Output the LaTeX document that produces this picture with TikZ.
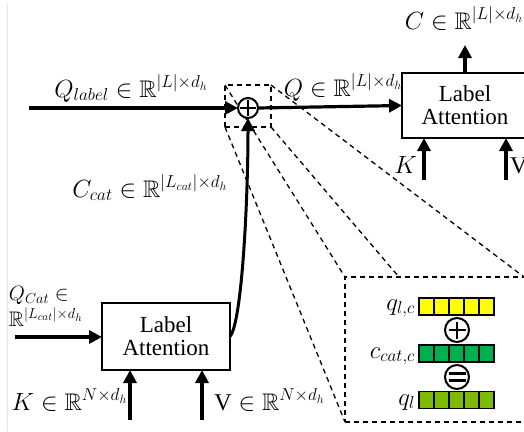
\documentclass[tikz,border=0pt]{standalone}
\usepackage{amssymb}
\usepackage{fontspec}
\setmainfont{Liberation Serif}
\usetikzlibrary{arrows.meta}
\definecolor{barYellow}{HTML}{FFFF00}
\definecolor{barGreen}{HTML}{00B050}
\definecolor{barLime}{HTML}{7DBB00}
\begin{document}
\begin{tikzpicture}[x=1pt,y=-1pt,
  every node/.style={inner sep=0pt, outer sep=0pt},
  lbl/.style={font=\fontsize{24}{28}\selectfont},
  smalllbl/.style={font=\fontsize{21}{24}\selectfont},
  attbox/.style={draw, line width=2pt, fill=white, align=center,
    font=\fontsize{23}{26}\selectfont},
  arr/.style={line width=3.2pt, -{Triangle[length=13pt,width=13pt]}},
  zoomline/.style={line width=1.3pt, dash pattern=on 5pt off 4pt},
  cell/.style={draw, line width=1.4pt, minimum width=15pt, minimum height=17pt},
  opcircle/.style={circle, draw, line width=2pt, fill=white},
]
\useasboundingbox (0,0) rectangle (524,431);
\clip (0,0) rectangle (524,431);

% faint page edge
\draw[black!10, line width=0.8pt] (7,4) -- (7,431);

% zoom frames
\node[draw, zoomline, minimum width=46pt, minimum height=42pt] (small) at (248,106) {};
\node[draw, zoomline, minimum width=185pt, minimum height=145pt] (big) at (437.5,349.5) {};
\coordinate (bigC) at (399,277);
\coordinate (bigD) at (524,277);
\draw[zoomline] (small.north west) -- (big.north west);
\draw[zoomline] (small.south west) -- (big.south west);
\draw[zoomline] (small.south east) -- (bigC);
\draw[zoomline] (small.north east) -- (bigD);

% label attention blocks
\node[attbox, minimum width=126pt, minimum height=65pt] (la1) at (465,105.5) {Label\\[-3pt]Attention};
\node[attbox, minimum width=128pt, minimum height=67pt] (la2) at (166,336.5) {Label\\[-3pt]Attention};

% addition node
\node[opcircle, minimum size=20pt] (plus) at (248,108) {};
\draw[line width=2pt] ([yshift=-8pt]plus.center) -- ([yshift=8pt]plus.center);
\draw[line width=2pt] ([xshift=-8pt]plus.center) -- ([xshift=8pt]plus.center);

% main connectors
\coordinate (qin) at (29,108);
\coordinate (cout) at (465,45);
\coordinate (kin1) at (424,180);
\coordinate (vin1) at (506,180);
\coordinate (qcin) at (15,337);
\coordinate (kin2) at (130,420);
\coordinate (vin2) at (202,420);
\draw[arr] (qin) -- (plus.west);
\draw[arr] (plus.east) -- (la1.west);
\draw[arr] (la1.north) -- (cout);
\draw[arr] (kin1) -- (kin1 |- la1.south);
\draw[arr] (vin1) -- (vin1 |- la1.south);
\draw[arr] (qcin) -- (qcin -| la2.west);
\draw[arr] (kin2) -- (kin2 |- la2.south);
\draw[arr] (vin2) -- (vin2 |- la2.south);
\draw[line width=3pt, -{Triangle[length=13pt,width=13pt]}]
  (la2.east) .. controls +(12,-14) and +(0,82) .. (plus.south);

% labels
\node[lbl, anchor=base] (tQl) at (131,97) {$Q_{label}\in\mathbb{R}^{|L|\times d_h}$};
\node[lbl, anchor=base] (tQ) at (343,96) {$Q\in\mathbb{R}^{|L|\times d_h}$};
\node[lbl, anchor=base] (tC) at (464,29) {$C\in\mathbb{R}^{|L|\times d_h}$};
\node[lbl, anchor=base east] (tK1) at (417,173) {$K$};
\node[lbl, anchor=base west] (tV1) at (510,173) {$\mathrm{V}$};
\node[lbl, anchor=base] (tCc) at (150,197) {$C_{cat}\in\mathbb{R}^{|L_{cat}|\times d_h}$};
\node[smalllbl, anchor=base west] (tQc1) at (9,300) {$Q_{Cat}\in$};
\node[smalllbl, anchor=base west] (tQc2) at (9,326) {$\mathbb{R}^{|L_{cat}|\times d_h}$};
\node[lbl, anchor=base] (tK2) at (69.5,410) {$K\in\mathbb{R}^{N\times d_h}$};
\node[lbl, anchor=base] (tV2) at (269.5,410) {$\mathrm{V}\in\mathbb{R}^{N\times d_h}$};

% vectors inside the zoomed view
\foreach \i in {0,...,4} {
  \node[cell, fill=barYellow] (y\i) at (426.5+15*\i,306.5) {};
  \node[cell, fill=barGreen] (g\i) at (426.5+15*\i,353.5) {};
  \node[cell, fill=barLime] (l\i) at (426.5+15*\i,400) {};
}
\node[lbl, anchor=base east] (tql) at (415,310) {$q_{l,c}$};
\node[lbl, anchor=base east] (tcc) at (415,358) {$c_{cat,c}$};
\node[lbl, anchor=base east] (tq) at (415,405) {$q_l$};

\node[opcircle, minimum size=24pt] (opPlus) at (457,330) {};
\draw[line width=2.4pt] ([yshift=-8.5pt]opPlus.center) -- ([yshift=8.5pt]opPlus.center);
\draw[line width=2.4pt] ([xshift=-8.5pt]opPlus.center) -- ([xshift=8.5pt]opPlus.center);
\node[opcircle, minimum size=24pt] (opEq) at (457,377) {};
\draw[line width=2.4pt] ([xshift=-8.5pt,yshift=-3.5pt]opEq.center) -- ([xshift=8.5pt,yshift=-3.5pt]opEq.center);
\draw[line width=2.4pt] ([xshift=-8.5pt,yshift=3.5pt]opEq.center) -- ([xshift=8.5pt,yshift=3.5pt]opEq.center);
\end{tikzpicture}
\end{document}
